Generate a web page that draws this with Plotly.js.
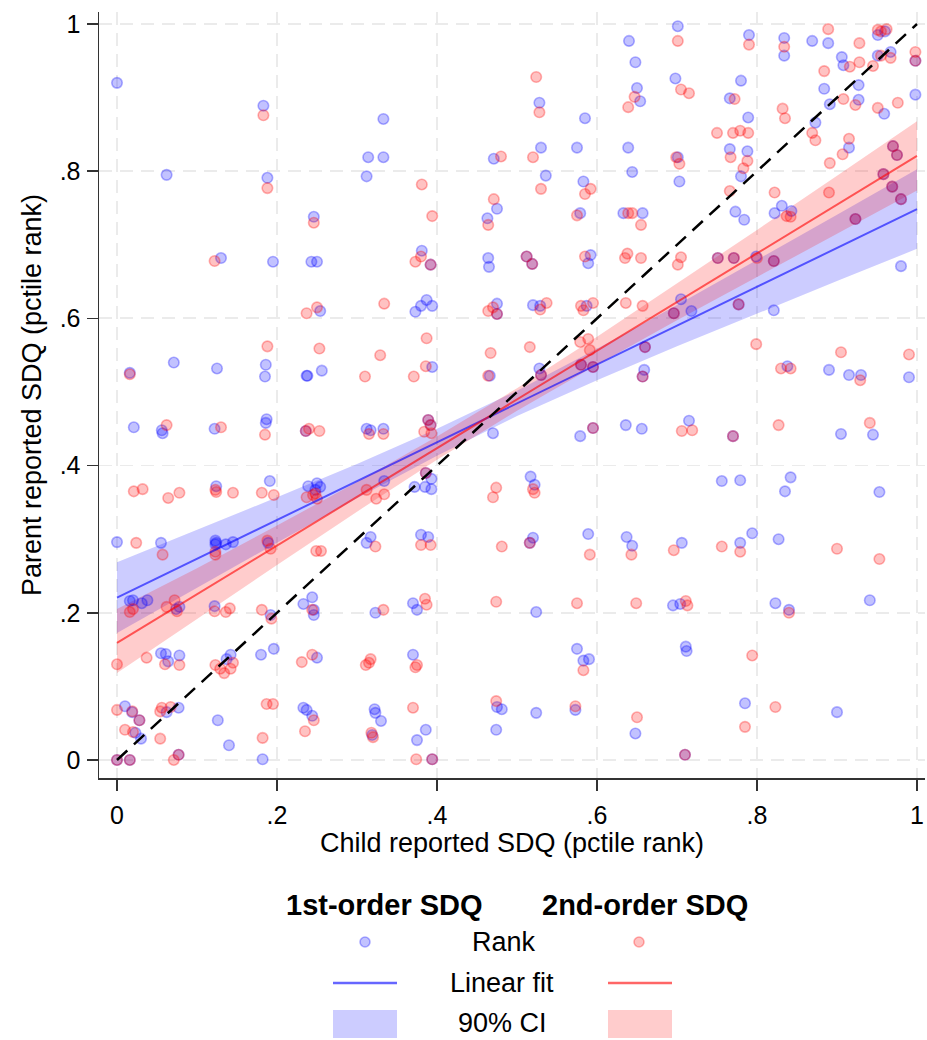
<!DOCTYPE html>
<html>
<head>
<meta charset="utf-8">
<script src="https://cdn.plot.ly/plotly-3.0.1.min.js"></script>
<style>html,body{margin:0;padding:0;background:#fff;}#chart{width:927px;height:1040px;}</style>
</head>
<body>
<div id="chart"></div>
<script>
// ---- Data ----
const firstOrderX = [0.0,0.183,0.333,0.314,0.333,0.471,0.062,0.188,0.312,0.475,0.463,0.246,0.13,0.195,0.243,0.25,0.381,0.392,0.464,0.465,0.254,0.373,0.38,0.387,0.394,0.475,0.475,0.071,0.125,0.186,0.185,0.237,0.238,0.256,0.394,0.466,0.016,
0.701,0.64,0.648,0.698,0.65,0.654,0.528,0.585,0.53,0.575,0.639,0.536,0.583,0.644,0.701,0.703,0.579,0.633,0.657,0.512,0.519,0.592,0.589,0.751,0.771,0.799,0.821,0.52,0.529,0.587,0.705,0.718,0.696,0.777,0.821,0.58,0.595,0.528,0.53,0.659,0.657,0.66,0.838,0.89,0.915,0.93,0.99,
0.79,0.834,0.834,0.869,0.889,0.951,0.96,0.906,0.908,0.951,0.967,0.998,0.884,0.927,0.927,0.891,0.959,0.998,0.766,0.78,0.789,0.873,0.915,0.766,0.788,0.78,0.97,0.975,0.958,0.969,0.98,0.773,0.784,0.822,0.831,0.843,0.923,0.98,
0.0,0.021,0.056,0.057,0.122,0.187,0.186,0.236,0.312,0.317,0.333,0.389,0.392,0.47,0.124,0.191,0.239,0.25,0.254,0.248,0.334,0.372,0.385,0.393,0.393,0.386,0.517,0.055,0.123,0.123,0.124,0.136,0.145,0.189,0.312,0.317,0.38,0.389,
0.016,0.02,0.031,0.038,0.078,0.074,0.122,0.192,0.233,0.244,0.246,0.246,0.323,0.37,0.375,0.055,0.061,0.064,0.078,0.137,0.142,0.18,0.196,0.25,0.37,0.01,0.019,0.028,0.023,0.03,0.062,0.077,0.126,0.14,0.182,0.233,0.237,0.244,0.322,0.323,0.33,0.319,0.386,0.375,0.394,0.475,0.481,0.474,0.0,0.016,0.077,
0.579,0.595,0.636,0.656,0.715,0.77,0.905,0.945,0.522,0.756,0.779,0.842,0.835,0.953,0.52,0.516,0.589,0.637,0.644,0.706,0.779,0.794,0.827,0.524,0.695,0.704,0.823,0.84,0.941,0.575,0.583,0.59,0.711,0.712,0.524,0.573,0.648,0.71,0.785,0.9];
const firstOrderY = [0.92,0.889,0.871,0.819,0.819,0.817,0.795,0.791,0.793,0.749,0.736,0.738,0.682,0.677,0.677,0.677,0.692,0.673,0.682,0.67,0.61,0.609,0.617,0.625,0.617,0.62,0.606,0.54,0.532,0.537,0.521,0.522,0.522,0.529,0.534,0.522,0.526,
0.997,0.977,0.948,0.926,0.913,0.895,0.893,0.872,0.832,0.832,0.832,0.794,0.786,0.799,0.819,0.786,0.743,0.743,0.743,0.684,0.674,0.686,0.675,0.682,0.682,0.684,0.678,0.618,0.617,0.617,0.626,0.61,0.607,0.619,0.611,0.537,0.534,0.532,0.523,0.53,0.521,0.561,0.535,0.53,0.523,0.523,0.52,
0.985,0.981,0.957,0.977,0.974,0.985,0.99,0.955,0.944,0.957,0.962,0.95,0.912,0.917,0.897,0.891,0.878,0.904,0.899,0.923,0.873,0.866,0.832,0.83,0.827,0.793,0.834,0.822,0.796,0.779,0.762,0.745,0.734,0.743,0.753,0.746,0.735,0.671,
0.296,0.452,0.448,0.444,0.45,0.463,0.458,0.447,0.45,0.448,0.45,0.462,0.455,0.444,0.372,0.379,0.372,0.376,0.371,0.367,0.379,0.371,0.371,0.382,0.368,0.39,0.385,0.295,0.298,0.293,0.295,0.293,0.296,0.295,0.295,0.303,0.306,0.303,
0.216,0.217,0.213,0.217,0.208,0.205,0.209,0.197,0.212,0.221,0.204,0.197,0.2,0.213,0.204,0.145,0.144,0.134,0.142,0.137,0.143,0.143,0.151,0.139,0.143,0.073,0.065,0.054,0.037,0.029,0.065,0.071,0.054,0.02,0.001,0.071,0.068,0.06,0.069,0.064,0.053,0.034,0.041,0.027,0.001,0.072,0.069,0.041,0.0,0.0,0.007,
0.44,0.451,0.455,0.45,0.461,0.44,0.443,0.442,0.374,0.379,0.38,0.384,0.365,0.364,0.302,0.295,0.307,0.303,0.291,0.295,0.295,0.308,0.3,0.201,0.21,0.212,0.213,0.204,0.217,0.151,0.135,0.137,0.154,0.148,0.064,0.068,0.036,0.007,0.077,0.065];

const secondOrderX = [0.183,0.48,0.188,0.381,0.471,0.464,0.394,0.246,0.122,0.373,0.38,0.392,0.237,0.25,0.334,0.464,0.47,0.475,0.188,0.253,0.329,0.387,0.467,0.31,0.371,0.386,0.464,0.016,
0.701,0.524,0.705,0.715,0.647,0.639,0.528,0.52,0.699,0.703,0.53,0.585,0.592,0.575,0.639,0.644,0.655,0.512,0.519,0.585,0.635,0.638,0.655,0.705,0.701,0.751,0.771,0.8,0.821,0.529,0.537,0.58,0.583,0.595,0.636,0.657,0.696,0.777,0.516,0.799,0.579,0.589,0.591,0.58,0.595,0.66,0.53,0.657,0.905,0.99,0.83,0.842,0.929,
0.79,0.834,0.889,0.928,0.951,0.962,0.955,0.916,0.928,0.945,0.955,0.967,0.998,0.998,0.884,0.908,0.923,0.951,0.976,0.772,0.832,0.835,0.75,0.77,0.779,0.789,0.869,0.873,0.915,0.907,0.891,0.767,0.788,0.783,0.766,0.822,0.97,0.975,0.958,0.969,0.98,0.89,0.837,0.842,0.923,
0.062,0.13,0.185,0.236,0.24,0.253,0.315,0.333,0.384,0.389,0.392,0.393,0.021,0.032,0.064,0.078,0.123,0.124,0.145,0.181,0.196,0.237,0.245,0.25,0.248,0.312,0.324,0.334,0.386,0.47,0.474,0.024,0.057,0.123,0.123,0.188,0.192,0.249,0.255,0.323,0.38,0.392,0.481,0.474,
0.016,0.02,0.062,0.072,0.075,0.122,0.136,0.141,0.181,0.193,0.244,0.333,0.385,0.387,0.0,0.037,0.06,0.078,0.123,0.134,0.142,0.145,0.129,0.231,0.244,0.311,0.317,0.315,0.373,0.375,0.0,0.019,0.028,0.01,0.02,0.054,0.056,0.067,0.054,0.187,0.195,0.182,0.246,0.235,0.318,0.32,0.37,0.374,0.394,0.474,0.0,0.016,0.071,0.077,
0.595,0.706,0.719,0.77,0.827,0.941,0.52,0.522,0.516,0.591,0.643,0.696,0.756,0.779,0.9,0.953,0.575,0.649,0.711,0.713,0.84,0.583,0.794,0.573,0.65,0.71,0.785,0.823];
const secondOrderY = [0.876,0.82,0.777,0.782,0.762,0.727,0.739,0.73,0.678,0.677,0.684,0.673,0.607,0.615,0.62,0.61,0.615,0.606,0.562,0.559,0.55,0.573,0.553,0.521,0.521,0.535,0.522,0.524,
0.977,0.928,0.911,0.906,0.901,0.887,0.88,0.819,0.819,0.81,0.776,0.769,0.776,0.74,0.743,0.743,0.727,0.684,0.674,0.684,0.682,0.688,0.682,0.683,0.673,0.682,0.682,0.682,0.678,0.612,0.621,0.617,0.611,0.621,0.621,0.617,0.607,0.619,0.561,0.565,0.568,0.572,0.557,0.537,0.534,0.561,0.523,0.521,0.554,0.551,0.532,0.532,0.516,
0.972,0.969,0.993,0.974,0.992,0.993,0.99,0.942,0.948,0.943,0.957,0.954,0.962,0.95,0.936,0.898,0.89,0.886,0.893,0.898,0.885,0.872,0.852,0.852,0.855,0.852,0.852,0.842,0.844,0.823,0.811,0.819,0.814,0.804,0.773,0.771,0.834,0.822,0.796,0.779,0.762,0.771,0.739,0.738,0.735,
0.455,0.452,0.442,0.447,0.45,0.447,0.443,0.443,0.446,0.462,0.455,0.444,0.365,0.368,0.356,0.363,0.367,0.364,0.363,0.363,0.36,0.357,0.36,0.355,0.362,0.367,0.355,0.361,0.39,0.357,0.37,0.295,0.279,0.279,0.283,0.298,0.287,0.284,0.284,0.29,0.292,0.292,0.29,0.215,
0.201,0.205,0.208,0.217,0.202,0.202,0.201,0.206,0.204,0.192,0.204,0.204,0.219,0.211,0.13,0.139,0.13,0.129,0.129,0.118,0.124,0.132,0.124,0.133,0.143,0.129,0.137,0.132,0.126,0.129,0.068,0.066,0.054,0.041,0.038,0.066,0.071,0.072,0.029,0.076,0.076,0.03,0.054,0.039,0.037,0.031,0.071,0.001,0.001,0.08,0.0,0.0,0.0,0.007,
0.451,0.447,0.448,0.44,0.455,0.458,0.368,0.363,0.295,0.279,0.279,0.285,0.29,0.283,0.287,0.273,0.213,0.213,0.216,0.21,0.2,0.122,0.142,0.073,0.058,0.007,0.045,0.072];

// Linear fits and 90% CI bands (read at x = 0, .1, ..., 1)
const fitX = [0,0.1,0.2,0.3,0.4,0.5,0.6,0.7,0.8,0.9,1];
const firstFit   = [0.2205,0.2733,0.3261,0.3789,0.4317,0.4845,0.5373,0.5901,0.6429,0.6957,0.7485];
const firstUpper = [0.2685,0.3125,0.3569,0.4023,0.4499,0.5018,0.5586,0.6182,0.6791,0.7407,0.8025];
const firstLower = [0.1725,0.2341,0.2953,0.3555,0.4135,0.4672,0.5160,0.5620,0.6067,0.6507,0.6945];
const secondFit   = [0.159,0.2252,0.2913,0.3575,0.4237,0.4899,0.556,0.6222,0.6884,0.7546,0.8207];
const secondUpper = [0.205,0.2606,0.3186,0.3776,0.4395,0.5052,0.5749,0.6470,0.7202,0.7939,0.8677];
const secondLower = [0.118,0.1918,0.2650,0.3374,0.4079,0.4746,0.5371,0.5974,0.6566,0.7153,0.7737];
const diagX = [0,1];
const diagY = [0,1];
const tickVals = [0,0.2,0.4,0.6,0.8,1];
const tickText = ['0','.2','.4','.6','.8','1'];
const xTitle = 'Child reported SDQ (pctile rank)';
const yTitle = 'Parent reported SDQ (pctile rank)';
const groupNames = ['1st-order SDQ','2nd-order SDQ'];
const legendRows = ['Rank','Linear fit','90% CI'];

// ---- styles ----
const BLUE_FILL='rgba(0,0,255,0.24)', BLUE_LINE='rgba(0,0,255,0.3)';
const RED_FILL='rgba(255,0,0,0.24)', RED_LINE='rgba(255,0,0,0.3)';
const BLUE_BAND='rgba(0,0,255,0.2)', RED_BAND='rgba(255,0,0,0.2)';
const BLUE_FITC='rgba(0,0,255,0.6)', RED_FITC='rgba(255,0,0,0.6)';
const FONT='"Liberation Sans", Arial, sans-serif';

function band(lower, upper, color){
  return {x: fitX.concat(fitX.slice().reverse()), y: upper.concat(lower.slice().reverse()),
    type:'scatter', mode:'lines', fill:'toself', fillcolor:color, line:{width:0}, hoverinfo:'skip', showlegend:false};
}
const traces = [
  band(firstLower, firstUpper, BLUE_BAND),
  band(secondLower, secondUpper, RED_BAND),
  {x:firstOrderX, y:firstOrderY, type:'scatter', mode:'markers', showlegend:false,
   marker:{size:10.5, color:BLUE_FILL, line:{color:BLUE_LINE, width:1.6}}},
  {x:secondOrderX, y:secondOrderY, type:'scatter', mode:'markers', showlegend:false,
   marker:{size:10.5, color:RED_FILL, line:{color:RED_LINE, width:1.6}}},
  {x:fitX, y:firstFit, type:'scatter', mode:'lines', line:{color:BLUE_FITC, width:2}, showlegend:false},
  {x:fitX, y:secondFit, type:'scatter', mode:'lines', line:{color:RED_FITC, width:2}, showlegend:false},
  {x:diagX, y:diagY, type:'scatter', mode:'lines', line:{color:'#000', width:2.5, dash:'14px,9px'}, showlegend:false}
];

// pixel -> paper helpers for the hand-made legend
const ML=99, MR=2, MT=12, MB=262, W=927, H=1040;
const PW=W-ML-MR, PH=H-MT-MB;
const px=x=>(x-ML)/PW, py=y=>(H-MB-y)/PH;

const shapes=[], annotations=[];
function text(t,x,y,size,bold){
  annotations.push({xref:'paper',yref:'paper',x:px(x),y:py(y),xanchor:'center',yanchor:'middle',showarrow:false,
    text: bold?'<b>'+t+'</b>':t, font:{family:FONT,size:size,color:'#000'}});
}
text(groupNames[0],384,905,29,true);
text(groupNames[1],645,905,29,true);
text(legendRows[0],504,942,27,false);
text(legendRows[1],502,983,27,false);
text(legendRows[2],502,1023,27,false);
[[365,BLUE_FILL,BLUE_LINE],[639,RED_FILL,RED_LINE]].forEach(([cx,f,l])=>{
  shapes.push({type:'circle',xref:'paper',yref:'paper',x0:px(cx-5),x1:px(cx+5),y0:py(947),y1:py(937),fillcolor:f,line:{color:l,width:1.6}});
});
[[333,397,BLUE_FITC,BLUE_BAND],[608,672,RED_FITC,RED_BAND]].forEach(([a,b,lc,bc])=>{
  shapes.push({type:'line',xref:'paper',yref:'paper',x0:px(a),x1:px(b),y0:py(983),y1:py(983),line:{color:lc,width:2.5}});
  shapes.push({type:'rect',xref:'paper',yref:'paper',x0:px(a),x1:px(b),y0:py(1038),y1:py(1010),fillcolor:bc,line:{width:0}});
});

const axisCommon = {
  tickvals:tickVals, ticktext:tickText, ticks:'outside', ticklen:11, tickwidth:1.5, tickcolor:'#333',
  showline:true, linecolor:'#333', linewidth:1.5, mirror:false, zeroline:false,
  showgrid:true, gridcolor:'#ebebeb', gridwidth:1.8, griddash:'13px,8px',
  tickfont:{family:FONT,size:25,color:'#000'}, automargin:false
};
const layout = {
  width:W, height:H, margin:{l:ML,r:MR,t:MT,b:MB,pad:0},
  paper_bgcolor:'#fff', plot_bgcolor:'#fff', showlegend:false,
  font:{family:FONT,color:'#000'},
  xaxis: Object.assign({}, axisCommon, {range:[-0.0225,1.01], ticklabelstandoff:3,
    title:{text:xTitle, font:{family:FONT,size:27,color:'#000'}, standoff:5}}),
  yaxis: Object.assign({}, axisCommon, {range:[-0.0245,1.0163], ticklabelstandoff:1,
    title:{text:yTitle, font:{family:FONT,size:27,color:'#000'}, standoff:10}}),
  shapes:shapes, annotations:annotations
};
Plotly.newPlot('chart', traces, layout, {staticPlot:true, displayModeBar:false});
</script>
</body>
</html>
